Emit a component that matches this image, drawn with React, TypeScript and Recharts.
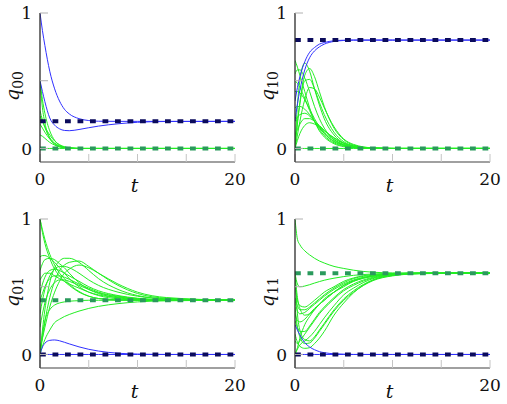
import React from 'react';
import { LineChart, Line, XAxis, YAxis } from 'recharts';

// Sample times shared by every trajectory
const T = [0, 0.25, 0.5, 1, 1.5, 2, 2.5, 3, 4, 5, 6, 8, 10, 13, 20];

// Equilibria (dashed)
const Q00_EQ = { blue: 0.2, green: 0 };
const Q10_EQ = { blue: 0.8, green: 0 };
const Q01_EQ = { blue: 0, green: 0.4 };
const Q11_EQ = { blue: 0, green: 0.6 };

// q00 trajectories
const q00Blue = [
  [1, 0.87, 0.76, 0.57, 0.44, 0.35, 0.29, 0.255, 0.22, 0.206, 0.201, 0.2, 0.2, 0.2, 0.2],
  [0.5, 0.42, 0.345, 0.225, 0.172, 0.145, 0.133, 0.131, 0.14, 0.153, 0.165, 0.182, 0.193, 0.199, 0.2],
];
const q00Green = [
  [0.5, 0.3, 0.19, 0.075, 0.03, 0.012, 0.005, 0.002, 0, 0, 0, 0, 0, 0, 0],
  [0.5, 0.36, 0.26, 0.13, 0.06, 0.025, 0.01, 0.004, 0, 0, 0, 0, 0, 0, 0],
  [0.28, 0.21, 0.155, 0.08, 0.04, 0.02, 0.01, 0.004, 0, 0, 0, 0, 0, 0, 0],
  [0.24, 0.2, 0.16, 0.1, 0.055, 0.028, 0.013, 0.006, 0, 0, 0, 0, 0, 0, 0],
  [0.18, 0.15, 0.12, 0.07, 0.035, 0.016, 0.007, 0.003, 0, 0, 0, 0, 0, 0, 0],
  [0.1, 0.09, 0.075, 0.045, 0.025, 0.012, 0.005, 0.002, 0, 0, 0, 0, 0, 0, 0],
  [0, 0, 0, 0, 0, 0, 0, 0, 0, 0, 0, 0, 0, 0, 0],
];

// q10 trajectories
const q10Blue = [
  [0.35, 0.45, 0.53, 0.64, 0.71, 0.745, 0.77, 0.782, 0.795, 0.799, 0.8, 0.8, 0.8, 0.8, 0.8],
  [0.2, 0.33, 0.43, 0.58, 0.67, 0.72, 0.75, 0.77, 0.79, 0.797, 0.8, 0.8, 0.8, 0.8, 0.8],
];
const q10Green = [
  [0.65, 0.6, 0.54, 0.42, 0.3, 0.2, 0.13, 0.085, 0.035, 0.013, 0.005, 0, 0, 0, 0],
  [0, 0.32, 0.5, 0.63, 0.57, 0.44, 0.32, 0.22, 0.1, 0.04, 0.015, 0, 0, 0, 0],
  [0, 0.18, 0.34, 0.54, 0.59, 0.53, 0.42, 0.31, 0.15, 0.065, 0.025, 0.003, 0, 0, 0],
  [0.05, 0.2, 0.33, 0.5, 0.51, 0.44, 0.34, 0.25, 0.12, 0.05, 0.02, 0.002, 0, 0, 0],
  [0, 0.1, 0.2, 0.36, 0.45, 0.44, 0.38, 0.3, 0.16, 0.07, 0.03, 0.004, 0, 0, 0],
  [0.5, 0.48, 0.45, 0.37, 0.28, 0.2, 0.14, 0.095, 0.042, 0.017, 0.007, 0, 0, 0, 0],
  [0.42, 0.42, 0.41, 0.36, 0.29, 0.22, 0.16, 0.11, 0.05, 0.022, 0.009, 0.001, 0, 0, 0],
  [0.3, 0.31, 0.31, 0.29, 0.25, 0.2, 0.15, 0.11, 0.055, 0.025, 0.01, 0.001, 0, 0, 0],
  [0.2, 0.23, 0.25, 0.26, 0.24, 0.2, 0.16, 0.12, 0.065, 0.03, 0.013, 0.002, 0, 0, 0],
  [0.1, 0.14, 0.18, 0.22, 0.22, 0.2, 0.17, 0.135, 0.075, 0.037, 0.017, 0.003, 0, 0, 0],
  [0, 0.06, 0.11, 0.17, 0.19, 0.18, 0.16, 0.13, 0.08, 0.04, 0.018, 0.003, 0, 0, 0],
  [0.55, 0.58, 0.58, 0.52, 0.42, 0.31, 0.22, 0.15, 0.065, 0.026, 0.01, 0, 0, 0, 0],
  [0, 0, 0, 0, 0, 0, 0, 0, 0, 0, 0, 0, 0, 0, 0],
];

// q01 trajectories
const q01Blue = [
  [0, 0.055, 0.083, 0.104, 0.107, 0.101, 0.09, 0.078, 0.056, 0.038, 0.025, 0.009, 0.003, 0, 0],
  [0, 0, 0, 0, 0, 0, 0, 0, 0, 0, 0, 0, 0, 0, 0],
];
const q01Green = [
  [1, 0.92, 0.85, 0.74, 0.66, 0.6, 0.56, 0.52, 0.465, 0.43, 0.413, 0.403, 0.4, 0.4, 0.4],
  [1, 0.9, 0.82, 0.71, 0.63, 0.58, 0.54, 0.51, 0.46, 0.43, 0.413, 0.403, 0.4, 0.4, 0.4],
  [0.72, 0.73, 0.73, 0.71, 0.68, 0.64, 0.6, 0.56, 0.5, 0.46, 0.435, 0.41, 0.402, 0.4, 0.4],
  [0.62, 0.67, 0.7, 0.71, 0.7, 0.67, 0.64, 0.6, 0.53, 0.48, 0.45, 0.418, 0.405, 0.4, 0.4],
  [0, 0.18, 0.33, 0.53, 0.64, 0.69, 0.71, 0.71, 0.68, 0.62, 0.56, 0.48, 0.435, 0.41, 0.4],
  [0, 0.12, 0.24, 0.42, 0.54, 0.62, 0.66, 0.68, 0.69, 0.65, 0.6, 0.51, 0.45, 0.415, 0.4],
  [0.05, 0.12, 0.2, 0.35, 0.46, 0.54, 0.6, 0.63, 0.66, 0.64, 0.6, 0.52, 0.46, 0.42, 0.4],
  [0.3, 0.4, 0.48, 0.58, 0.63, 0.65, 0.65, 0.64, 0.6, 0.55, 0.51, 0.46, 0.43, 0.41, 0.4],
  [0.45, 0.52, 0.57, 0.62, 0.63, 0.62, 0.6, 0.58, 0.54, 0.5, 0.47, 0.435, 0.415, 0.403, 0.4],
  [0.55, 0.58, 0.6, 0.6, 0.58, 0.56, 0.54, 0.52, 0.49, 0.46, 0.44, 0.42, 0.408, 0.401, 0.4],
  [0.2, 0.3, 0.38, 0.48, 0.53, 0.55, 0.55, 0.54, 0.51, 0.48, 0.455, 0.425, 0.41, 0.402, 0.4],
  [0, 0.06, 0.11, 0.18, 0.235, 0.26, 0.28, 0.295, 0.32, 0.34, 0.355, 0.375, 0.388, 0.396, 0.4],
  [0, 0.15, 0.25, 0.33, 0.365, 0.38, 0.388, 0.393, 0.397, 0.4, 0.4, 0.4, 0.4, 0.4, 0.4],
  [0.4, 0.45, 0.5, 0.56, 0.58, 0.58, 0.57, 0.555, 0.52, 0.49, 0.46, 0.43, 0.413, 0.403, 0.4],
];

// q11 trajectories
const q11Blue = [
  [0.22, 0.18, 0.145, 0.088, 0.055, 0.035, 0.021, 0.013, 0.005, 0.002, 0, 0, 0, 0, 0],
  [0, 0, 0, 0, 0, 0, 0, 0, 0, 0, 0, 0, 0, 0, 0],
];
const q11Green = [
  [1, 0.85, 0.81, 0.765, 0.735, 0.71, 0.69, 0.675, 0.65, 0.635, 0.622, 0.607, 0.602, 0.6, 0.6],
  [0.6, 0.52, 0.5, 0.505, 0.515, 0.527, 0.538, 0.548, 0.563, 0.575, 0.584, 0.594, 0.598, 0.6, 0.6],
  [0.42, 0.36, 0.33, 0.33, 0.35, 0.38, 0.41, 0.44, 0.49, 0.53, 0.56, 0.585, 0.595, 0.6, 0.6],
  [0.4, 0.32, 0.3, 0.31, 0.34, 0.37, 0.4, 0.43, 0.48, 0.52, 0.55, 0.58, 0.594, 0.6, 0.6],
  [0.6, 0.42, 0.34, 0.29, 0.3, 0.33, 0.37, 0.4, 0.46, 0.51, 0.54, 0.578, 0.593, 0.599, 0.6],
  [0.3, 0.25, 0.24, 0.26, 0.3, 0.34, 0.37, 0.41, 0.46, 0.5, 0.54, 0.577, 0.592, 0.599, 0.6],
  [0.25, 0.2, 0.17, 0.17, 0.21, 0.26, 0.31, 0.35, 0.42, 0.48, 0.52, 0.57, 0.59, 0.599, 0.6],
  [0.1, 0.08, 0.1, 0.15, 0.2, 0.25, 0.3, 0.34, 0.41, 0.47, 0.51, 0.565, 0.588, 0.598, 0.6],
  [0.6, 0.3, 0.18, 0.11, 0.1, 0.13, 0.18, 0.23, 0.33, 0.41, 0.47, 0.55, 0.583, 0.597, 0.6],
  [0.35, 0.2, 0.13, 0.08, 0.085, 0.12, 0.17, 0.22, 0.32, 0.4, 0.46, 0.545, 0.58, 0.597, 0.6],
  [0, 0.04, 0.07, 0.1, 0.13, 0.17, 0.22, 0.27, 0.36, 0.44, 0.49, 0.56, 0.585, 0.598, 0.6],
  [0.15, 0.09, 0.06, 0.045, 0.05, 0.08, 0.12, 0.17, 0.29, 0.38, 0.455, 0.55, 0.585, 0.597, 0.6],
  [0, 0.05, 0.12, 0.22, 0.28, 0.33, 0.37, 0.4, 0.46, 0.51, 0.545, 0.58, 0.594, 0.6, 0.6],
  [0.5, 0.4, 0.36, 0.35, 0.37, 0.4, 0.43, 0.46, 0.5, 0.54, 0.565, 0.59, 0.597, 0.6, 0.6],
];

const X_TICKS = [0, 5, 10, 15, 20];
const X_LABELED = [0, 20];
const Y_TICKS = [0, 0.5, 1];
const Y_LABELED = [0, 1];

const SERIF = 'DejaVu Serif';
const LIME = '#22ee22';
const BLUE = '#3030ff';
const NAVY = '#0b0b5c';
const SEA = '#2a9a5c';

const PANEL_W = 253;
const PANEL_H = 200;

const toPoints = (vals: number[]) => T.map((t, i) => ({ t, v: vals[i] }));
const flat = (v: number) => [{ t: 0, v }, { t: 20, v }];

function XTick(props: any) {
  const { x, y, payload } = props;
  if (!X_LABELED.includes(payload?.value)) return <g />;
  return (
    <text x={x} y={y} textAnchor="middle" fontFamily={SERIF} fontSize={17} fill="#111">
      {payload.value}
    </text>
  );
}

function YTick(props: any) {
  const { x, y, payload } = props;
  if (!Y_LABELED.includes(payload?.value)) return <g />;
  return (
    <text x={x} y={y} dy={6.1} textAnchor="end" fontFamily={SERIF} fontSize={17} fill="#111">
      {payload.value}
    </text>
  );
}

const yTitle = (sub: string) => (props: any) => {
  const vb = props.viewBox || { x: 10, y: 13 };
  const cx = vb.x + 8.5;
  const cy = vb.y + 73;
  return (
    <text
      x={cx}
      y={cy}
      transform={`rotate(-90, ${cx}, ${cy})`}
      textAnchor="middle"
      fontFamily={SERIF}
      fill="#111"
    >
      <tspan fontStyle="italic" fontSize={19}>q</tspan>
      <tspan fontSize={14} dy={4}>{sub}</tspan>
    </text>
  );
};

const xTitle = (props: any) => {
  const vb = props.viewBox || { x: 40, y: 162, width: 195 };
  return (
    <text
      x={vb.x + vb.width / 2 - 3}
      y={vb.y + 30}
      textAnchor="middle"
      fontFamily={SERIF}
      fontStyle="italic"
      fontSize={19}
      fill="#111"
    >
      t
    </text>
  );
};

type PanelProps = {
  sub: string;
  green: number[][];
  blue: number[][];
  eq: { blue: number; green: number };
  left: number;
  top: number;
};

function Panel({ sub, green, blue, eq, left, top }: PanelProps) {
  return (
    <div style={{ position: 'absolute', left, top, width: PANEL_W, height: PANEL_H }}>
      <LineChart
        width={PANEL_W}
        height={PANEL_H}
        margin={{ top: 13, right: 18, bottom: 8, left: 10 }}
        style={{ overflow: 'visible' }}
      >
        <XAxis
          dataKey="t"
          type="number"
          domain={[0, 20]}
          ticks={X_TICKS}
          allowDataOverflow
          height={30}
          axisLine={{ stroke: '#808080', strokeWidth: 1.3 }}
          tickLine={{ stroke: '#c4c4c4', strokeWidth: 1 }}
          tickSize={-8}
          tickMargin={31}
          tick={<XTick />}
          label={{ content: xTitle }}
        />
        <YAxis
          dataKey="v"
          type="number"
          domain={[-0.1, 1]}
          ticks={Y_TICKS}
          allowDataOverflow
          width={30}
          axisLine={{ stroke: '#2a2a2a', strokeWidth: 1.3 }}
          tickLine={{ stroke: '#b0b0b0', strokeWidth: 1 }}
          tickSize={-8}
          tickMargin={16}
          tick={<YTick />}
          label={{ content: yTitle(sub) }}
        />
        {green.map((vals, i) => (
          <Line
            key={`g${i}`}
            data={toPoints(vals)}
            dataKey="v"
            type="monotone"
            stroke={LIME}
            strokeWidth={1}
            dot={false}
            isAnimationActive={false}
          />
        ))}
        {blue.map((vals, i) => (
          <Line
            key={`b${i}`}
            data={toPoints(vals)}
            dataKey="v"
            type="monotone"
            stroke={BLUE}
            strokeWidth={1}
            dot={false}
            isAnimationActive={false}
          />
        ))}
        <Line
          data={flat(eq.green)}
          dataKey="v"
          type="linear"
          stroke={SEA}
          strokeWidth={4}
          strokeDasharray="5.8 6.7"
          dot={false}
          isAnimationActive={false}
        />
        <Line
          data={flat(eq.blue)}
          dataKey="v"
          type="linear"
          stroke={NAVY}
          strokeWidth={4}
          strokeDasharray="5.8 6.7"
          dot={false}
          isAnimationActive={false}
        />
      </LineChart>
    </div>
  );
}

export default function App() {
  return (
    <div style={{ position: 'relative', width: 507, height: 404, background: '#fff' }}>
      <style>{'body{margin:0}'}</style>
      <Panel sub="00" green={q00Green} blue={q00Blue} eq={Q00_EQ} left={0} top={0} />
      <Panel sub="10" green={q10Green} blue={q10Blue} eq={Q10_EQ} left={255.4} top={0} />
      <Panel sub="01" green={q01Green} blue={q01Blue} eq={Q01_EQ} left={0} top={205.5} />
      <Panel sub="11" green={q11Green} blue={q11Blue} eq={Q11_EQ} left={255.4} top={205.5} />
    </div>
  );
}
